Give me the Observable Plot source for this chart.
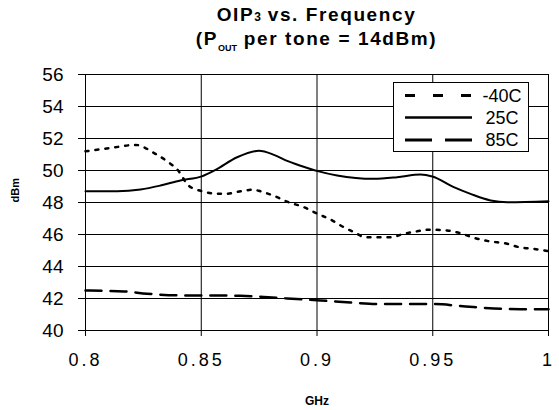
<!DOCTYPE html>
<html>
<head>
<meta charset="utf-8">
<script src="https://cdn.jsdelivr.net/npm/d3@7"></script>
<script src="https://cdn.jsdelivr.net/npm/@observablehq/plot@0.6"></script>
<style>
  html, body { margin: 0; padding: 0; background: #fff; }
  #wrap { position: relative; width: 559px; height: 410px; font-family: "Liberation Sans", Arial, sans-serif; }
  #title { position: absolute; left: 85px; top: 0; width: 463px; height: 56px; text-align: center;
           font-weight: bold; font-size: 19px; line-height: 21px; letter-spacing: 1.6px; padding-top: 4px; box-sizing: border-box; color: #000; }
  #title .small { font-size: 12px; letter-spacing: 0; }
  #title .sub { font-size: 9px; position: relative; top: 6px; line-height: 0; letter-spacing: 0; }
  #chart { position: absolute; left: 0; top: 56px; }
  #chart [aria-label="x-axis tick label"] text { letter-spacing: 3px; }
  #legend { position: absolute; left: 393px; top: 82px; }
</style>
</head>
<body>
<div id="wrap">
  <div id="title">OIP<span class="small">3</span> vs. Frequency<br>(P<span class="sub">OUT</span> per tone = 14dBm)</div>
  <div id="chart"></div>
  <div id="legend"></div>
</div>
<script>
// Tick values and labels
const xTicks = [0.8, 0.85, 0.9, 0.95, 1.0];
const xTickLabels = ["0.8", "0.85", "0.9", "0.95", "1"];
const yTicks = [40, 42, 44, 46, 48, 50, 52, 54, 56];

// Series names
const seriesNames = ["-40C", "25C", "85C"];

// -40C
const freqM40 = [0.800, 0.8115, 0.8216, 0.830, 0.835, 0.840, 0.8445, 0.8505, 0.857, 0.861, 0.867, 0.8726, 0.8756, 0.881, 0.888, 0.8936, 0.9001, 0.9058, 0.911, 0.916, 0.921, 0.932, 0.9374, 0.9433, 0.9476, 0.951, 0.9562, 0.962, 0.967, 0.9742, 0.9822, 0.9875, 0.9936, 1.0];
const oipM40  = [51.2, 51.42, 51.6, 51.06, 50.6, 50.0, 49.06, 48.7, 48.55, 48.55, 48.7, 48.8, 48.7, 48.44, 48.0, 47.75, 47.3, 46.94, 46.5, 46.14, 45.83, 45.83, 46.04, 46.2, 46.29, 46.29, 46.25, 46.08, 45.83, 45.58, 45.42, 45.2, 45.1, 44.96];

// 25C
const freq25 = [0.8, 0.8137, 0.8238, 0.8324, 0.841, 0.8502, 0.8562, 0.8655, 0.8749, 0.8814, 0.8871, 0.8929, 0.9003, 0.9087, 0.9245, 0.9346, 0.9447, 0.9498, 0.9591, 0.9663, 0.975, 0.9822, 1.0];
const oip25  = [48.7, 48.7, 48.81, 49.06, 49.38, 49.63, 50.04, 50.83, 51.23, 50.98, 50.6, 50.3, 49.96, 49.69, 49.48, 49.58, 49.75, 49.63, 48.96, 48.54, 48.13, 48.02, 48.08];

// 85C
const freq85 = [0.8, 0.8166, 0.8266, 0.8396, 0.8502, 0.867, 0.877, 0.8871, 0.9015, 0.9145, 0.9274, 0.9389, 0.9505, 0.9642, 0.9764, 0.9879, 1.0];
const oip85  = [42.5, 42.44, 42.3, 42.2, 42.19, 42.17, 42.1, 42.0, 41.88, 41.75, 41.65, 41.65, 41.65, 41.5, 41.38, 41.33, 41.33];

const toRows = (fs, vs) => fs.map((f, i) => ({f, v: vs[i]}));
const dM40 = toRows(freqM40, oipM40);
const d25 = toRows(freq25, oip25);
const d85 = toRows(freq85, oip85);

const xLabelMap = new Map(xTicks.map((t, i) => [t, xTickLabels[i]]));

const chart = Plot.plot({
  width: 559,
  height: 354,
  marginTop: 18,
  marginBottom: 80,
  marginLeft: 85,
  marginRight: 11,
  style: {fontFamily: "'Liberation Sans', Arial, sans-serif", background: "white", color: "black"},
  x: {domain: [0.8, 1.0]},
  y: {domain: [40, 56]},
  marks: [
    Plot.gridX(xTicks, {stroke: "black", strokeOpacity: 1, strokeWidth: 1}),
    Plot.gridY(yTicks, {stroke: "black", strokeOpacity: 1, strokeWidth: 1}),
    Plot.frame({stroke: "black", strokeWidth: 1}),
    Plot.axisX(xTicks, {tickSize: 6, tickPadding: 17, fontSize: 18, tickFormat: d => xLabelMap.get(d), label: null, stroke: "black"}),
    Plot.axisY(yTicks, {tickSize: 7, tickPadding: 15, fontSize: 19, label: null, stroke: "black"}),
    Plot.line(d85, {x: "f", y: "v", stroke: "black", strokeWidth: 2.5, strokeDasharray: "16,9", curve: "monotone-x"}),
    Plot.line(dM40, {x: "f", y: "v", stroke: "black", strokeWidth: 2.5, strokeDasharray: "3,7", curve: "monotone-x"}),
    Plot.line(d25, {x: "f", y: "v", stroke: "black", strokeWidth: 2, curve: "monotone-x"}),
    Plot.text(["GHz"], {frameAnchor: "bottom", dy: 74, text: d => d, fontSize: 12, fontWeight: "bold", fill: "black"}),
    Plot.text(["dBm"], {frameAnchor: "left", dx: -70, rotate: -90, text: d => d, fontSize: 11, fontWeight: "bold", fill: "black"})
  ]
});
document.getElementById("chart").appendChild(chart);

// Legend (HTML overlay, drawn with d3)
const legendStyles = [
  {dash: "10,18", width: 3},
  {dash: null, width: 2.5},
  {dash: "27,13", width: 3}
];
const lg = d3.select("#legend").append("svg").attr("width", 136).attr("height", 70)
  .style("font-family", "'Liberation Sans', Arial, sans-serif");
lg.append("rect").attr("x", 0.5).attr("y", 0.5).attr("width", 135).attr("height", 69)
  .attr("fill", "white").attr("stroke", "black").attr("stroke-width", 1);
const rowsY = [13.5, 35.5, 58];
seriesNames.forEach((name, i) => {
  const ln = lg.append("line").attr("x1", 12).attr("x2", 79).attr("y1", rowsY[i]).attr("y2", rowsY[i])
    .attr("stroke", "black").attr("stroke-width", legendStyles[i].width);
  if (legendStyles[i].dash) ln.attr("stroke-dasharray", legendStyles[i].dash);
  lg.append("text").attr("x", 109).attr("y", rowsY[i]).attr("dy", "0.35em").attr("text-anchor", "middle")
    .attr("font-size", 18).attr("fill", "black").text(name);
});
</script>
</body>
</html>
